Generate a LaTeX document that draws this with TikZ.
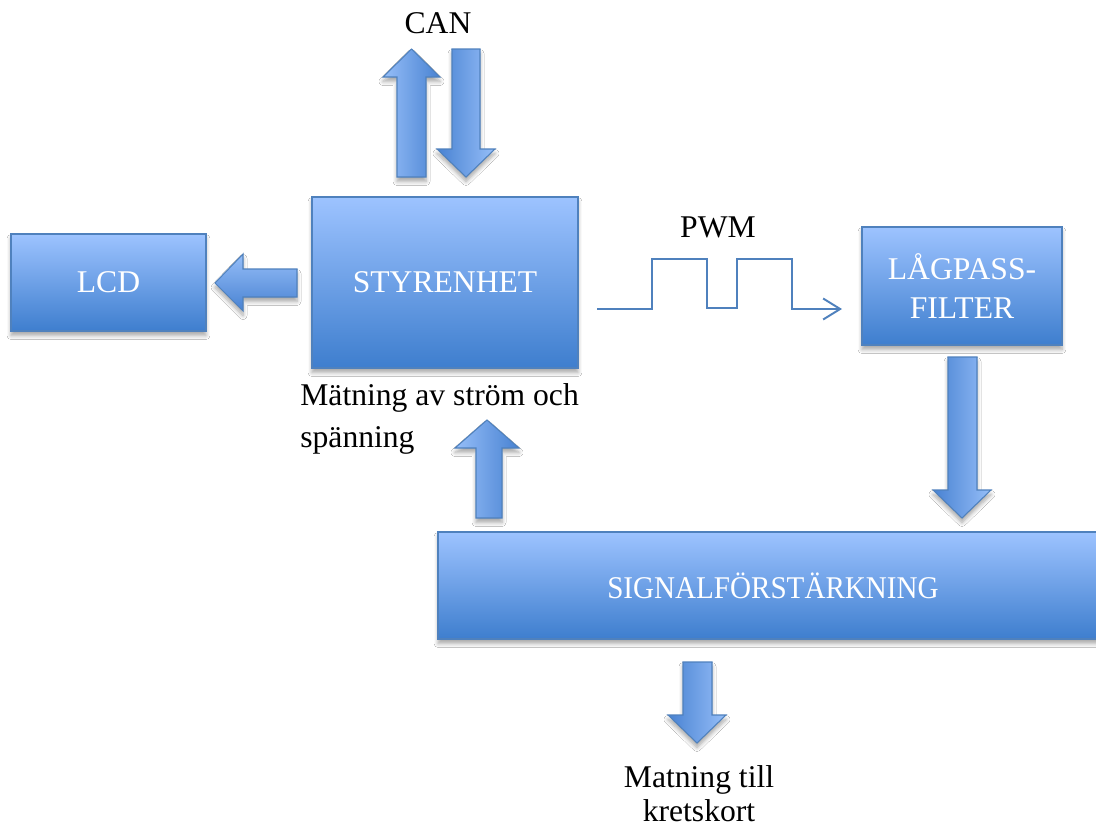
\documentclass[tikz,border=0pt]{standalone}
\usepackage{fontspec}
\setmainfont{Liberation Serif}
\usetikzlibrary{shadows.blur,arrows.meta}
\definecolor{boxtop}{RGB}{157,195,255}
\definecolor{boxbot}{RGB}{62,126,206}
\definecolor{edgeblue}{RGB}{79,129,189}
\definecolor{arlight}{RGB}{150,190,248}
\definecolor{ardark}{RGB}{72,130,210}
\tikzset{
  shad/.style={blur shadow={shadow xshift=0pt, shadow yshift=-0.09cm, shadow blur steps=6, shadow blur radius=0.08cm, shadow opacity=35}},
  blk/.style={draw=edgeblue, line width=0.8pt, top color=boxtop, bottom color=boxbot,
    text=white, font=\fontsize{18}{22.7}\selectfont, align=center, inner sep=0pt, shad},
  barrowL/.style={draw=edgeblue, line width=0.6pt, left color=arlight, right color=ardark, shad},
  barrowR/.style={draw=edgeblue, line width=0.6pt, left color=ardark, right color=arlight, shad},
  barrowT/.style={draw=edgeblue, line width=0.6pt, top color=arlight, bottom color=ardark, shad},
  lbl/.style={text=black, inner sep=0pt, font=\fontsize{18}{22}\selectfont},
}
\begin{document}
\begin{tikzpicture}[x=0.02cm, y=-0.02cm]
\clip (0,0) rectangle (1096,829);
\fill[white] (0,0) rectangle (1096,829);

% boxes
\node[blk, minimum width=3.9cm, minimum height=1.94cm] (lcd) at (108.5,282.5) {LCD};
\node[blk, minimum width=5.32cm, minimum height=3.42cm] (sty) at (445,282.5) {STYRENHET};
\node[blk, minimum width=4cm, minimum height=2.36cm] (lp) at (962,286) {LÅGPASS-\\FILTER};
\node[blk, minimum width=13.4cm, minimum height=2.14cm] (sig) at (773,585.5) {\scalebox{0.92}[1]{SIGNALFÖRSTÄRKNING}};

% block arrows
% CAN up
\path[barrowL] (397,177) -- (397,77) -- (383,77) -- (411.5,49) -- (440,77) -- (426,77) -- (426,177) -- cycle;
% CAN down
\path[barrowR] (452,49) -- (480,49) -- (480,149) -- (495,149) -- (466,177) -- (437,149) -- (452,149) -- cycle;
% to LCD
\path[barrowT] (297,269) -- (243,269) -- (243,254) -- (215,283) -- (243,311) -- (243,297) -- (297,297) -- cycle;
% signal -> styrenhet
\path[barrowL] (476,518) -- (476,448) -- (455,448) -- (487,420) -- (519,448) -- (502,448) -- (502,518) -- cycle;
% lagpass -> signal
\path[barrowR] (948,357) -- (977,357) -- (977,490) -- (991,490) -- (962,518) -- (933,490) -- (948,490) -- cycle;
% matning
\path[barrowR] (683,662) -- (712,662) -- (712,715) -- (726,715) -- (697,743) -- (668,715) -- (683,715) -- cycle;

% PWM signal
\coordinate (pwmS) at (597,309);
\coordinate (pwmE) at (842,309);
\draw[edgeblue, line width=1.1pt, -{Straight Barb[length=0.34cm, width=0.42cm]}]
  (pwmS) -- (652,309) -- (652,259) -- (707,259) -- (707,308) -- (737,308) -- (737,259) -- (792,259) -- (792,309) -- (pwmE);

% labels
\node[lbl, anchor=base] (can) at (438,33) {CAN};
\node[lbl, anchor=base] (pwm) at (718,237) {PWM};
\node[lbl, anchor=north west, align=left, font=\fontsize{18}{23.8}\selectfont] (mat) at (300,383) {Mätning av ström och\\spänning};
\node[lbl, anchor=north, align=center, font=\fontsize{18}{19.5}\selectfont] (kret) at (699,765) {Matning till\\kretskort};
\end{tikzpicture}
\end{document}
